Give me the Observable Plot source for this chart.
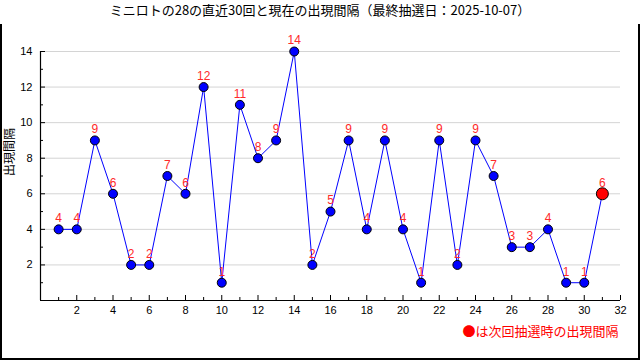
<!DOCTYPE html>
<html><head><meta charset="utf-8">
<script src="https://cdn.jsdelivr.net/npm/d3@7"></script>
<script src="https://cdn.jsdelivr.net/npm/@observablehq/plot@0.6"></script>
<style>
body{margin:0;background:#fff;}
#wrap{position:relative;width:640px;height:360px;overflow:hidden;background:#fff;}
#title{position:absolute;top:0;left:0;width:640px;height:28px;line-height:28px;text-align:center;font:13px "Noto Sans CJK JP",sans-serif;color:#000;}
#frame{position:absolute;top:24px;left:0;width:640px;height:336px;box-sizing:border-box;border:2px solid #000;border-top:none;}
#chart{position:absolute;top:28px;left:0;}
</style></head>
<body><div id="wrap"><div id="title">ミニロトの28の直近30回と現在の出現間隔（最終抽選日：2025-10-07）</div><div id="frame"></div><div id="chart"></div></div>
<script>
const draws = d3.range(1, 32);
const intervals = [4,4,9,6,2,2,7,6,12,1,11,8,9,14,2,5,9,4,9,4,1,9,2,9,7,3,3,4,1,1,6];
const yMajor = [2,4,6,8,10,12,14];
const yMinor = [1,3,5,7,9,11,13];
const xMajor = [2,4,6,8,10,12,14,16,18,20,22,24,26,28,30,32];
const xMinor = [1,3,5,7,9,11,13,15,17,19,21,23,25,27,29,31];
const yLabel = "出現間隔";
const legendText = "●は次回抽選時の出現間隔";

const data = draws.map((d, i) => ({x: d, y: intervals[i], last: i === draws.length - 1}));
const past = data.filter(d => !d.last);
const cur = data.filter(d => d.last);
const tickFont = "Liberation Sans, Arial, sans-serif";

const chart = Plot.plot({
  width: 640, height: 332,
  marginLeft: 40, marginRight: 20, marginTop: 23, marginBottom: 60,
  style: {fontFamily: tickFont, fontSize: "11px", color: "#000", background: "transparent"},
  x: {domain: [0, 32], axis: null},
  y: {domain: [0, 14], axis: null},
  marks: [
    Plot.ruleY(yMajor, {stroke: "#d4d4d4", strokeWidth: 1}),
    Plot.ruleX([0], {y1: 0, y2: 14, stroke: "#000", strokeWidth: 1.2}),
    Plot.ruleY([0], {x1: 0, x2: 32, stroke: "#000", strokeWidth: 1.2}),
    Plot.tickY(yMajor, {y: d => d, insetRight: 575, stroke: "#000"}),
    Plot.tickY(yMinor, {y: d => d, insetRight: 577, stroke: "#000"}),
    Plot.tickX(xMajor, {x: d => d, insetTop: 244, stroke: "#000"}),
    Plot.tickX(xMinor, {x: d => d, insetTop: 246, stroke: "#000"}),
    Plot.axisY({ticks: yMajor, tickSize: 0, tickPadding: 8, label: null, fontSize: 11, fill: "#000"}),
    Plot.axisX({ticks: xMajor, tickSize: 0, tickPadding: 6, label: null, fontSize: 11, fill: "#000"}),
    Plot.text([yLabel], {frameAnchor: "left", dx: -30, rotate: -90, fontSize: 12, fill: "#000", fontFamily: "Noto Sans CJK JP"}),
    Plot.line(data, {x: "x", y: "y", stroke: "#0000ff", strokeWidth: 1}),
    Plot.text(data, {x: "x", y: "y", text: d => String(d.y), dy: -11, fill: "#ff2a2a", fontSize: 12}),
    Plot.dot(past, {x: "x", y: "y", r: 4.5, fill: "#0000ff", stroke: "#000", strokeWidth: 1}),
    Plot.dot(cur, {x: "x", y: "y", r: 6, fill: "#ff0000", stroke: "#000", strokeWidth: 1}),
    Plot.text([legendText], {frameAnchor: "bottom-right", dx: -2, dy: 35, textAnchor: "end", fill: "#ff0000", fontSize: 13, fontFamily: "Noto Sans CJK JP"})
  ]
});
document.getElementById("chart").appendChild(chart);
</script></body></html>
